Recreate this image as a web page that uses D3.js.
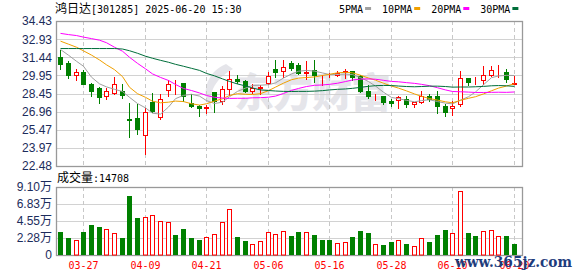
<!DOCTYPE html>
<html><head><meta charset="utf-8">
<script src="https://cdn.jsdelivr.net/npm/d3@7"></script>
<style>body{margin:0;background:#fff}svg{display:block;white-space:pre}</style>
</head><body>
<script>
const title = "鸿日达[301285] 2025-06-20 15:30";
const dates = ["03-24","03-25","03-26","03-27","03-28","03-31","04-01","04-02","04-03","04-07","04-08","04-09","04-10","04-11","04-14","04-15","04-16","04-17","04-18","04-21","04-22","04-23","04-24","04-25","04-28","04-29","04-30","05-06","05-07","05-08","05-09","05-12","05-13","05-14","05-15","05-16","05-19","05-20","05-21","05-22","05-23","05-26","05-27","05-28","05-29","05-30","06-03","06-04","06-05","06-06","06-09","06-10","06-11","06-12","06-13","06-16","06-17","06-18","06-19","06-20"];
const open  = [31.47,30.97,30.01,30.22,29.20,28.87,28.23,28.48,28.70,26.35,26.40,25.03,27.79,26.49,28.76,29.01,29.31,27.65,27.46,27.30,28.56,27.83,28.81,29.67,29.47,28.70,28.90,29.31,30.45,30.28,31.00,30.84,30.15,30.42,29.88,29.88,29.95,30.25,30.28,29.87,28.65,28.30,28.21,27.87,27.93,28.01,27.60,27.73,28.29,28.29,27.46,27.27,27.58,29.76,29.33,29.59,30.01,30.38,30.22,29.25];
const high  = [32.06,31.13,30.50,30.36,29.31,28.98,28.89,29.81,29.20,27.65,27.60,27.27,28.48,28.43,29.59,29.53,29.35,28.43,27.50,27.54,28.58,29.10,30.31,29.95,29.53,29.20,29.12,30.22,31.25,31.19,31.13,31.00,31.13,31.19,29.95,30.17,30.31,30.50,30.35,29.95,29.12,28.43,28.25,28.01,28.21,28.21,27.79,28.70,28.43,28.62,27.60,27.82,30.31,29.76,29.81,30.70,30.70,30.78,30.50,29.87];
const low   = [30.47,29.72,29.53,29.20,28.29,27.65,28.01,28.45,28.07,24.91,25.11,23.50,26.90,26.35,28.29,28.45,27.87,27.37,26.56,26.85,26.90,27.62,28.37,29.30,28.56,28.48,28.39,29.26,29.81,29.81,30.42,30.09,29.69,29.40,29.12,29.78,29.87,29.77,29.59,28.56,28.07,27.96,27.60,27.46,27.23,27.32,27.32,27.70,27.87,26.87,26.56,26.65,27.46,29.12,29.25,29.25,29.87,29.81,29.39,29.20];
const close = [30.89,29.95,30.20,29.26,28.70,28.15,28.70,29.20,28.37,26.30,25.57,26.93,27.00,28.01,29.20,29.03,28.26,27.43,27.29,27.34,27.82,28.84,29.67,29.47,28.70,28.90,28.95,29.89,30.22,30.67,30.55,30.14,30.20,29.95,29.92,29.90,30.18,30.28,29.81,28.65,28.29,28.33,27.73,27.65,28.15,27.60,27.73,28.21,28.01,27.40,26.93,27.46,29.76,29.39,29.36,29.95,30.36,30.42,29.67,29.28];
const volume = [30800,22800,19600,30800,40100,37500,34800,29000,22800,79000,49500,50400,53500,45100,43700,26800,34800,22800,20100,24100,28100,44200,61600,24100,18700,14700,18700,30800,28100,32100,25900,30800,30800,26800,20100,20100,15600,17000,24100,32100,29400,14700,12900,17000,19600,14700,11600,22300,17400,26800,33500,29000,85200,29400,25400,31700,33000,25000,25400,14708];
const ma5  = [32.08,31.61,31.11,30.70,29.80,29.25,29.00,28.80,28.62,28.14,27.63,27.27,26.83,26.76,27.34,28.03,28.30,28.39,28.24,27.87,27.63,27.74,28.19,28.63,28.90,29.12,29.14,29.18,29.33,29.73,30.06,30.29,30.36,30.30,30.15,30.02,30.03,30.05,30.02,29.76,29.44,29.07,28.56,28.13,28.03,27.89,27.77,27.87,27.94,27.79,27.66,27.60,27.91,28.19,28.58,29.18,29.76,29.90,29.95,29.94];
const ma10 = [32.77,32.52,32.27,31.97,31.62,31.22,30.82,30.42,29.85,28.97,28.44,28.14,27.82,27.69,27.74,27.83,27.79,27.61,27.50,27.61,27.83,28.02,28.29,28.44,28.39,28.37,28.44,28.69,28.98,29.31,29.59,29.72,29.77,29.82,29.94,30.04,30.16,30.20,30.16,29.96,29.73,29.55,29.30,29.07,28.90,28.67,28.42,28.22,28.04,27.91,27.77,27.69,27.89,28.06,28.19,28.42,28.68,28.90,29.07,29.26];
const ma20 = [33.41,33.31,33.23,33.10,32.98,32.85,32.64,32.27,31.94,31.44,30.94,30.49,30.07,29.78,29.53,29.20,28.87,28.70,28.50,28.29,28.14,28.08,28.05,28.06,28.06,28.10,28.11,28.15,28.24,28.46,28.71,28.87,29.03,29.13,29.16,29.21,29.30,29.44,29.57,29.64,29.66,29.63,29.54,29.45,29.42,29.35,29.29,29.21,29.10,28.93,28.75,28.62,28.60,28.57,28.54,28.54,28.55,28.56,28.55,28.58];
const ma30 = [32.16,32.16,32.16,32.16,32.16,32.16,32.16,32.16,32.12,31.98,31.77,31.53,31.36,31.19,31.03,30.86,30.70,30.53,30.36,30.11,29.91,29.66,29.45,29.24,29.08,28.91,28.75,28.70,28.66,28.63,28.62,28.63,28.63,28.65,28.69,28.75,28.80,28.83,28.88,28.96,29.05,29.10,29.12,29.11,29.07,29.03,29.01,29.03,29.06,29.06,29.03,28.98,28.99,28.99,29.01,29.04,29.09,29.11,29.09,29.04];
const priceTicks = [34.43,32.93,31.44,29.95,28.45,26.96,25.47,23.97,22.48];
const volTicks = [0,22800,45500,68300,91000];
const dateTicks = ["03-27","04-09","04-21","05-06","05-16","05-28","06-10","06-20"];
const maNames = ["5PMA","10PMA","20PMA","30PMA"];
const maColors = ["#a0a0a0","#f0a000","#ff00ff","#006e3a"];
const volLabel = "成交量:";
const lastVol = 14708;

const W = 578, H = 276;
const L = 56, R = 522, PT = 21, PB = 166, VT = 187, VB = 255;
const UP = "#ff0000", DOWN = "#008000";

const svg = d3.select("body").append("svg").attr("width", W).attr("height", H);

const x = d3.scaleBand().domain(dates).range([56.36, 517.52]);
const cx = d => Math.round(x(d) + x.bandwidth() / 2);
const y = d3.scaleLinear().domain([22.48, 34.43]).range([PB, PT]);
const yv = d3.scaleLinear().domain([0, 91000]).range([VB, VT]);

const isCJK = s => /[\u3000-\u9fff\uff00-\uffef]/.test(s);
function mixed(sel, str, cjkSize, latSize) {
  const parts = str.match(/[\u3000-\u9fff\uff00-\uffef]+|[^\u3000-\u9fff\uff00-\uffef]+/g);
  parts.forEach(p => {
    sel.append("tspan").text(p)
      .attr("font-family", isCJK(p) ? "'Noto Sans CJK SC'" : "'DejaVu Sans Mono'")
      .attr("font-size", isCJK(p) ? cjkSize : latSize);
  });
}

// watermark
svg.append("text").attr("x", 234).attr("y", 107).attr("font-family", "'Noto Sans CJK SC'")
  .attr("font-weight", 900).attr("font-size", 40).attr("fill", "#e5e5ea").attr("letter-spacing", -1)
  .text("东方财富");
svg.append("path").attr("d", "M226,64 C206,72 199,96 213,111 C207,96 213,80 233,69 Z").attr("fill", "#e5e5ea");

// grid
const g = svg.append("g");
g.selectAll(".hg").data(priceTicks.slice(1, -1)).join("line")
  .attr("x1", L).attr("x2", R).attr("y1", d => Math.round(y(d)) + 0.5).attr("y2", d => Math.round(y(d)) + 0.5)
  .attr("stroke", "#d2d2d2");
g.selectAll(".hv").data(volTicks.slice(1, -1)).join("line")
  .attr("x1", L).attr("x2", R).attr("y1", d => Math.round(yv(d)) + 0.5).attr("y2", d => Math.round(yv(d)) + 0.5)
  .attr("stroke", "#d2d2d2");
[[PT, PB], [VT, VB]].forEach(([a, b]) => {
  g.append("g").selectAll("line").data(dateTicks).join("line")
    .attr("x1", d => cx(d) + 0.5).attr("x2", d => cx(d) + 0.5).attr("y1", a).attr("y2", b)
    .attr("stroke", "#c8c8c8").attr("stroke-dasharray", "4,3");
});

// frames
svg.append("rect").attr("x", L + 0.5).attr("y", PT + 0.5).attr("width", R - L).attr("height", PB - PT)
  .attr("fill", "none").attr("stroke", "#999").attr("stroke-width", 1.3);
svg.append("rect").attr("x", L + 0.5).attr("y", VT + 0.5).attr("width", R - L).attr("height", VB - VT)
  .attr("fill", "none").attr("stroke", "#999").attr("stroke-width", 1.3);

// candles
const cd = dates.map((d, i) => ({d, o: open[i], h: high[i], l: low[i], c: close[i], v: volume[i],
  vu: i === 0 ? close[i] >= open[i] : close[i] >= close[i - 1]}));
const cg = svg.append("g");
cg.selectAll(".wick").data(cd).join("line")
  .attr("x1", d => cx(d.d) + 0.5).attr("x2", d => cx(d.d) + 0.5)
  .attr("y1", d => Math.round(y(d.h))).attr("y2", d => Math.round(y(d.l)) + 1)
  .attr("stroke", d => d.c >= d.o ? UP : DOWN);
cg.selectAll(".body").data(cd).join("rect")
  .attr("x", d => d.c >= d.o ? cx(d.d) - 2 + 0.5 : cx(d.d) - 2)
  .attr("y", d => { const t = Math.round(y(Math.max(d.o, d.c))); return d.c >= d.o ? t + 0.5 : t; })
  .attr("width", d => d.c >= d.o ? 4 : 5)
  .attr("height", d => { const hh = Math.round(y(Math.min(d.o, d.c))) - Math.round(y(Math.max(d.o, d.c)));
    return d.c >= d.o ? Math.max(0, hh) : Math.max(1, hh + 1); })
  .attr("fill", d => d.c >= d.o ? "#fff" : DOWN)
  .attr("stroke", d => d.c >= d.o ? UP : "none");

// volume bars
svg.append("g").selectAll("rect").data(cd).join("rect")
  .attr("x", d => d.vu ? cx(d.d) - 2 + 0.5 : cx(d.d) - 2)
  .attr("y", d => d.vu ? Math.round(yv(d.v)) + 0.5 : Math.round(yv(d.v)))
  .attr("width", d => d.vu ? 4 : 5)
  .attr("height", d => d.vu ? VB - Math.round(yv(d.v)) - 0.5 : VB - Math.round(yv(d.v)))
  .attr("fill", d => d.vu ? "#fff" : DOWN)
  .attr("stroke", d => d.vu ? UP : "none");

// MA lines
const mas = [ma5, ma10, ma20, ma30];
const line = d3.line().x((v, i) => cx(dates[i]) + 0.5).y(v => y(v));
mas.forEach((m, k) => {
  svg.append("path").attr("d", line(m)).attr("fill", "none").attr("stroke", maColors[k]).attr("stroke-width", 1);
});

// axes
const ay = svg.append("g").attr("transform", `translate(${L},0)`)
  .call(d3.axisLeft(y).tickValues(priceTicks).tickFormat(d3.format(".2f")).tickSize(0).tickPadding(4));
const av = svg.append("g").attr("transform", `translate(${L},0)`)
  .call(d3.axisLeft(yv).tickValues(volTicks).tickSize(0).tickPadding(4)
    .tickFormat(d => d === 0 ? "0" : (d / 10000).toFixed(2) + "万"));
[ay, av].forEach(a => {
  a.select(".domain").remove();
  a.selectAll("text").attr("font-family", "'Liberation Sans','Noto Sans CJK SC'").attr("font-size", 12).attr("fill", "#1c2c5c");
});
const ax = svg.append("g").attr("transform", `translate(0,${VB})`)
  .call(d3.axisBottom(x).tickValues(dateTicks).tickSize(0).tickPadding(7));
ax.select(".domain").remove();
ax.selectAll(".tick").attr("transform", d => `translate(${cx(d) + 0.5},0)`);
ax.selectAll("text").attr("font-family", "'DejaVu Sans Mono'").attr("font-size", 10).attr("fill", "#ff0000");

// title
mixed(svg.append("text").attr("x", 55).attr("y", 12.5).attr("fill", "#000"), title, 12, 10);
// volume label
mixed(svg.append("text").attr("x", 57).attr("y", 182).attr("fill", "#000"), volLabel + lastVol, 12, 10);

// legend
const lg = svg.append("g");
let lx = 339;
maNames.forEach((n, k) => {
  lg.append("text").attr("x", lx).attr("y", 12.5).attr("font-family", "'DejaVu Sans Mono'").attr("font-size", 10).text(n);
  const w = n.length * 6.02;
  lg.append("rect").attr("x", lx + w + 2).attr("y", 7).attr("width", 6).attr("height", 3).attr("fill", maColors[k]);
  lx += w + 2 + 6 + 11;
});

// site mark
svg.append("text").attr("x", 455).attr("y", 267).attr("font-family", "'DejaVu Serif'").attr("font-weight", "bold")
  .attr("font-size", 15).attr("fill", "#1e3c7c").attr("textLength", 117).attr("lengthAdjust", "spacingAndGlyphs")
  .text("www.365jz.com");
</script>
</body></html>
